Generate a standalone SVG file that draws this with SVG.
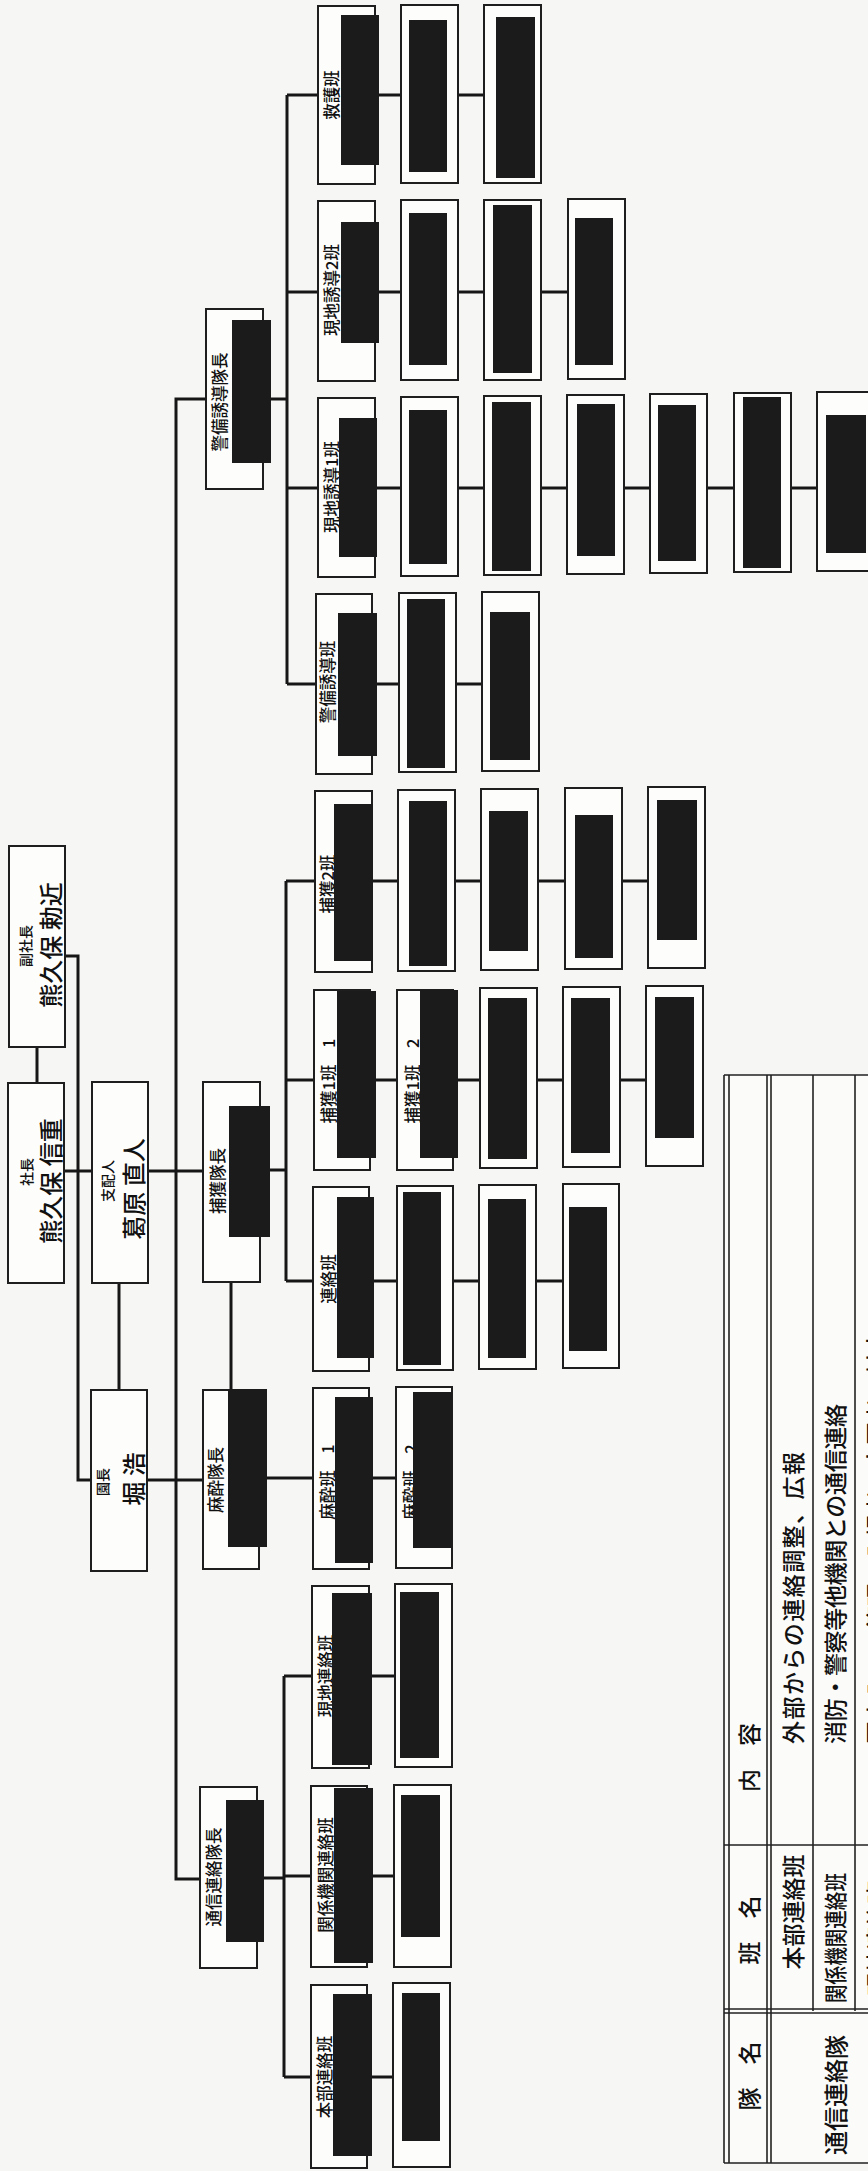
<svg xmlns="http://www.w3.org/2000/svg" width="868" height="2171" viewBox="0 0 868 2171">
<style>
.bg{fill:#f6f6f4}
.box{fill:#fdfdfc;stroke:#1e1e1e;stroke-width:2}
.red{fill:#1b1b1b}
.ln{fill:none;stroke:#161616;stroke-width:3}
.tl{fill:none;stroke:#222;stroke-width:1.6}
text{font-family:"Noto Sans CJK JP","Noto Sans CJK SC",sans-serif;fill:#111;text-anchor:middle;dominant-baseline:central;font-weight:500}
.s{font-size:14px}
.n{font-size:24px}
.l{font-size:16.5px}
.t{font-size:23px}
.ts{text-anchor:start}
</style>
<rect class="bg" x="0" y="0" width="868" height="2171"/>

<g id="connectors">
<path class="ln" d="M37,1047 V1083"/>
<path class="ln" d="M65,956 H78 V1480 H91"/>
<path class="ln" d="M64,1171 H203"/>
<path class="ln" d="M119,1283 V1390"/>
<path class="ln" d="M147,1480 H203"/>
<path class="ln" d="M206,399 H176 V1879 H200"/>
<path class="ln" d="M231,1282 V1390"/>
<path class="ln" d="M263,399 H287"/>
<path class="ln" d="M287,95 V684"/>
<path class="ln" d="M287,95 H484"/>
<path class="ln" d="M287,292 H567"/>
<path class="ln" d="M287,488 H817"/>
<path class="ln" d="M287,684 H482"/>
<path class="ln" d="M260,1170 H286"/>
<path class="ln" d="M286,881 V1281"/>
<path class="ln" d="M286,881 H647"/>
<path class="ln" d="M286,1080 H646"/>
<path class="ln" d="M286,1281 H562"/>
<path class="ln" d="M259,1478 H396"/>
<path class="ln" d="M257,1878 H284"/>
<path class="ln" d="M284,1676 V2077"/>
<path class="ln" d="M284,1676 H395"/>
<path class="ln" d="M284,1876 H394"/>
<path class="ln" d="M284,2077 H394"/>
</g>

<g id="n-fukushacho">
<rect class="box" x="9" y="846" width="56" height="201"/>
<text class="s" transform="translate(25 946) rotate(-90)">副社長</text>
<text class="n" transform="translate(49 945) rotate(-90)">熊久保 勅近</text>
</g>
<g id="n-shacho">
<rect class="box" x="8" y="1083" width="56" height="200"/>
<text class="s" transform="translate(26 1172) rotate(-90)">社長</text>
<text class="n" transform="translate(49 1181) rotate(-90)">熊久保 信重</text>
</g>
<g id="n-shihainin">
<rect class="box" x="92" y="1082" width="56" height="201"/>
<text class="s" transform="translate(107 1181) rotate(-90)">支配人</text>
<text class="n" transform="translate(132 1189) rotate(-90)">葛原 直人</text>
</g>
<g id="n-encho">
<rect class="box" x="91" y="1390" width="56" height="181"/>
<text class="s" transform="translate(102 1482) rotate(-90)">園長</text>
<text class="n" transform="translate(132 1479) rotate(-90)">堀 浩</text>
</g>

<g id="n-keibi-taicho">
<rect class="box" x="206" y="309" width="57" height="180"/>
<text class="l" transform="translate(219 402) rotate(-90)">警備誘導隊長</text>
<rect class="red" x="232" y="320" width="39" height="143"/>
</g>
<g id="n-hokaku-taicho">
<rect class="box" x="203" y="1082" width="57" height="200"/>
<text class="l" transform="translate(217 1181) rotate(-90)">捕獲隊長</text>
<rect class="red" x="229" y="1106" width="41" height="131"/>
</g>
<g id="n-masui-taicho">
<rect class="box" x="203" y="1390" width="56" height="179"/>
<text class="l" transform="translate(215 1480) rotate(-90)">麻酔隊長</text>
<rect class="red" x="228" y="1389" width="39" height="158"/>
</g>
<g id="n-tsushin-taicho">
<rect class="box" x="200" y="1787" width="57" height="181"/>
<text class="l" transform="translate(213 1877) rotate(-90)">通信連絡隊長</text>
<rect class="red" x="226" y="1800" width="38" height="142"/>
</g>

<!-- row 救護班 -->
<g id="n-kyugo">
<rect class="box" x="318" y="6" width="57" height="178"/>
<text class="l" transform="translate(331 95) rotate(-90)">救護班</text>
<rect class="red" x="341" y="15" width="38" height="150"/>
</g>
<g id="n-kyugo-2"><rect class="box" x="401" y="5" width="57" height="178"/><rect class="red" x="409" y="20" width="38" height="152"/></g>
<g id="n-kyugo-3"><rect class="box" x="484" y="5" width="57" height="178"/><rect class="red" x="496" y="17" width="39" height="161"/></g>

<!-- row 現地誘導2班 -->
<g id="n-genchi2">
<rect class="box" x="318" y="201" width="57" height="180"/>
<text class="l" transform="translate(331 290) rotate(-90)">現地誘導2班</text>
<rect class="red" x="341" y="222" width="38" height="121"/>
</g>
<g id="n-genchi2-2"><rect class="box" x="401" y="200" width="57" height="180"/><rect class="red" x="409" y="213" width="38" height="152"/></g>
<g id="n-genchi2-3"><rect class="box" x="484" y="200" width="57" height="180"/><rect class="red" x="493" y="205" width="39" height="168"/></g>
<g id="n-genchi2-4"><rect class="box" x="568" y="199" width="57" height="180"/><rect class="red" x="575" y="218" width="38" height="147"/></g>

<!-- row 現地誘導1班 -->
<g id="n-genchi1">
<rect class="box" x="318" y="398" width="57" height="179"/>
<text class="l" transform="translate(331 487) rotate(-90)">現地誘導1班</text>
<rect class="red" x="339" y="418" width="38" height="139"/>
</g>
<g id="n-genchi1-2"><rect class="box" x="401" y="397" width="57" height="179"/><rect class="red" x="409" y="410" width="38" height="154"/></g>
<g id="n-genchi1-3"><rect class="box" x="484" y="396" width="57" height="179"/><rect class="red" x="492" y="402" width="39" height="169"/></g>
<g id="n-genchi1-4"><rect class="box" x="567" y="395" width="57" height="179"/><rect class="red" x="577" y="404" width="38" height="152"/></g>
<g id="n-genchi1-5"><rect class="box" x="650" y="394" width="57" height="179"/><rect class="red" x="658" y="405" width="38" height="156"/></g>
<g id="n-genchi1-6"><rect class="box" x="734" y="393" width="57" height="179"/><rect class="red" x="743" y="397" width="38" height="171"/></g>
<g id="n-genchi1-7"><rect class="box" x="817" y="392" width="57" height="179"/><rect class="red" x="826" y="415" width="40" height="138"/></g>

<!-- row 警備誘導班 -->
<g id="n-keibi">
<rect class="box" x="316" y="594" width="56" height="180"/>
<text class="l" transform="translate(327 682) rotate(-90)">警備誘導班</text>
<rect class="red" x="338" y="613" width="39" height="143"/>
</g>
<g id="n-keibi-2"><rect class="box" x="399" y="593" width="57" height="179"/><rect class="red" x="407" y="599" width="38" height="169"/></g>
<g id="n-keibi-3"><rect class="box" x="482" y="592" width="57" height="179"/><rect class="red" x="490" y="612" width="40" height="148"/></g>

<!-- row 捕獲2班 -->
<g id="n-hokaku2">
<rect class="box" x="315" y="791" width="57" height="181"/>
<text class="l" transform="translate(327 884) rotate(-90)">捕獲2班</text>
<rect class="red" x="334" y="804" width="39" height="157"/>
</g>
<g id="n-hokaku2-2"><rect class="box" x="398" y="790" width="57" height="181"/><rect class="red" x="409" y="801" width="38" height="165"/></g>
<g id="n-hokaku2-3"><rect class="box" x="481" y="789" width="57" height="181"/><rect class="red" x="489" y="811" width="39" height="140"/></g>
<g id="n-hokaku2-4"><rect class="box" x="565" y="788" width="57" height="181"/><rect class="red" x="575" y="815" width="38" height="143"/></g>
<g id="n-hokaku2-5"><rect class="box" x="648" y="787" width="57" height="181"/><rect class="red" x="657" y="800" width="40" height="140"/></g>

<!-- row 捕獲1班 -->
<g id="n-hokaku1-1">
<rect class="box" x="314" y="990" width="56" height="180"/>
<text class="l" transform="translate(328 1081) rotate(-90)">捕獲1班　1</text>
<rect class="red" x="337" y="991" width="39" height="167"/>
</g>
<g id="n-hokaku1-2">
<rect class="box" x="397" y="990" width="56" height="180"/>
<text class="l" transform="translate(412 1081) rotate(-90)">捕獲1班　2</text>
<rect class="red" x="420" y="990" width="38" height="168"/>
</g>
<g id="n-hokaku1-3"><rect class="box" x="480" y="988" width="57" height="180"/><rect class="red" x="488" y="998" width="39" height="161"/></g>
<g id="n-hokaku1-4"><rect class="box" x="563" y="987" width="57" height="180"/><rect class="red" x="571" y="998" width="39" height="155"/></g>
<g id="n-hokaku1-5"><rect class="box" x="646" y="986" width="57" height="180"/><rect class="red" x="655" y="997" width="39" height="141"/></g>

<!-- row 連絡班 -->
<g id="n-renraku">
<rect class="box" x="313" y="1187" width="56" height="184"/>
<text class="l" transform="translate(328 1279) rotate(-90)">連絡班</text>
<rect class="red" x="337" y="1197" width="37" height="161"/>
</g>
<g id="n-renraku-2"><rect class="box" x="397" y="1186" width="56" height="184"/><rect class="red" x="403" y="1192" width="38" height="173"/></g>
<g id="n-renraku-3"><rect class="box" x="479" y="1185" width="57" height="184"/><rect class="red" x="488" y="1199" width="38" height="159"/></g>
<g id="n-renraku-4"><rect class="box" x="563" y="1184" width="56" height="184"/><rect class="red" x="569" y="1207" width="38" height="144"/></g>

<!-- row 麻酔班 -->
<g id="n-masui-1">
<rect class="box" x="313" y="1388" width="56" height="181"/>
<text class="l" transform="translate(327 1482) rotate(-90)">麻酔班　1</text>
<rect class="red" x="335" y="1397" width="38" height="166"/>
</g>
<g id="n-masui-2">
<rect class="box" x="396" y="1387" width="56" height="181"/>
<text class="l" transform="translate(410 1482) rotate(-90)">麻酔班　2</text>
<rect class="red" x="413" y="1392" width="39" height="156"/>
</g>

<!-- 通信連絡 rows -->
<g id="n-genchi-renraku">
<rect class="box" x="312" y="1586" width="57" height="182"/>
<text class="l" transform="translate(325 1676) rotate(-90)">現地連絡班</text>
<rect class="red" x="332" y="1593" width="40" height="172"/>
</g>
<g id="n-genchi-renraku-2"><rect class="box" x="395" y="1584" width="57" height="183"/><rect class="red" x="400" y="1592" width="39" height="166"/></g>
<g id="n-kankei">
<rect class="box" x="311" y="1786" width="56" height="181"/>
<text class="l" transform="translate(325 1875) rotate(-90)">関係機関連絡班</text>
<rect class="red" x="334" y="1788" width="39" height="175"/>
</g>
<g id="n-kankei-2"><rect class="box" x="394" y="1785" width="57" height="182"/><rect class="red" x="401" y="1795" width="39" height="142"/></g>
<g id="n-honbu">
<rect class="box" x="311" y="1985" width="56" height="183"/>
<text class="l" transform="translate(324 2077) rotate(-90)">本部連絡班</text>
<rect class="red" x="333" y="1994" width="39" height="162"/>
</g>
<g id="n-honbu-2"><rect class="box" x="393" y="1983" width="57" height="184"/><rect class="red" x="402" y="1993" width="38" height="148"/></g>

<!-- table -->
<g id="table">
<rect x="724" y="1075" width="150" height="1088" fill="#fbfbfa"/>
<path class="tl" d="M724,1075 H868 M724,2163 H868 M724,1075 V2163 M729,1075 V2163 M767,1075 V2163 M771,1075 V2163 M813,1075 V2011 M855,1075 V2011 M724,1845 H868 M724,2009 H868 M724,2013 H868"/>
<text class="t" transform="translate(748 2076) rotate(-90)">隊　名</text>
<text class="t" transform="translate(748 1930) rotate(-90)">班　名</text>
<text class="t ts" transform="translate(748 1792) rotate(-90)">内　容</text>
<text class="t" transform="translate(792 1912) rotate(-90)">本部連絡班</text>
<text class="t ts" transform="translate(792 1744) rotate(-90)" textLength="292" lengthAdjust="spacing">外部からの連絡調整、広報</text>
<text class="t" transform="translate(834 1938) rotate(-90)" textLength="130" lengthAdjust="spacingAndGlyphs">関係機関連絡班</text>
<text class="t ts" transform="translate(834 1744) rotate(-90)" textLength="340" lengthAdjust="spacing">消防・警察等他機関との通信連絡</text>
<text class="t" transform="translate(834 2095) rotate(-90)" style="font-size:24px">通信連絡隊</text>
<text class="t" transform="translate(876 1938) rotate(-90)">現地連絡班</text>
<text class="t ts" transform="translate(876 1744) rotate(-90)">園出入口の管理、入場者、来園者の対応</text>
</g>
</svg>
